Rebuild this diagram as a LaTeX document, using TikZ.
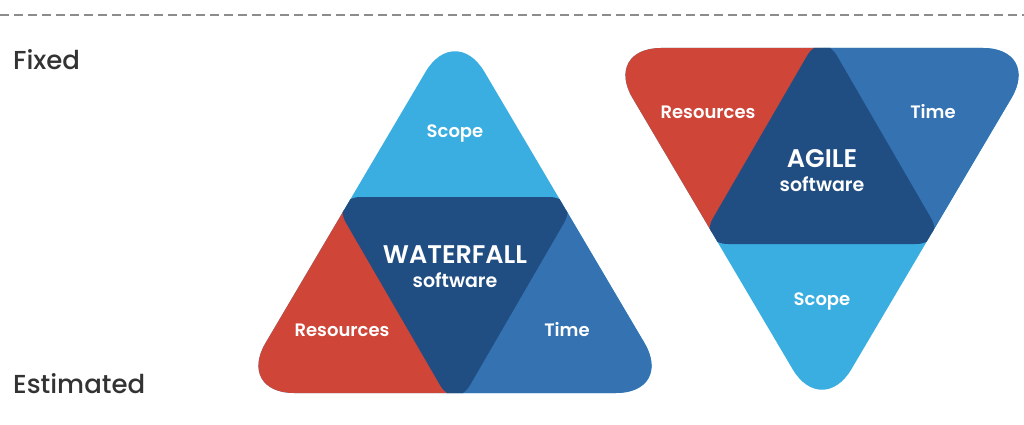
\documentclass[tikz,border=0pt]{standalone}
\usepackage{fontspec}
\setmainfont{Poppins}[BoldFont={Poppins SemiBold}]
\newfontfamily\medfont{Poppins Medium}
\usetikzlibrary{positioning}
\definecolor{resred}{HTML}{CF4538}
\definecolor{scopeblue}{HTML}{3AAEE0}
\definecolor{timeblue}{HTML}{3472B2}
\definecolor{coreblue}{HTML}{214E82}
\definecolor{textgray}{HTML}{333333}

\begin{document}
\begin{tikzpicture}[x=1pt,y=-1pt]
\tikzset{part/.style={text=white,font=\fontsize{18}{20}\selectfont\bfseries},
  method/.style={text=white,font=\fontsize{25.5}{27}\selectfont\bfseries,inner sep=0pt},
  sub/.style={text=white,font=\fontsize{19}{21}\selectfont\bfseries,inner sep=0pt},
  level/.style={text=textgray,font=\fontsize{26}{28}\selectfont\medfont,anchor=west,inner sep=0pt}}
\useasboundingbox (0,0) rectangle (1024,425);
\fill[white] (0,0) rectangle (1024,425);
\draw[gray!90,line width=1.5pt,dash pattern=on 9pt off 5pt] (0,15) -- (1024,15);
\node[level](fixed) at (13,60) {Fixed};
\node[level](estimated) at (13,384) {Estimated};
% waterfall
\begin{scope}
\clip[rounded corners=58] (455,22) -- (674,393) -- (236,393) -- cycle;
\fill[scopeblue] (200,0) rectangle (700,420);
\fill[resred] (200,210) rectangle (455,420);
\fill[timeblue] (455,210) rectangle (700,420);
\fill[coreblue,rounded corners=30] (331,197) -- (579,197) -- (455,411) -- cycle;
\end{scope}
\node[part](wscope) at (455,134) {Scope};
\node[method](wtitle) at (455,255) {WATERFALL};
\node[sub](wsoft)[below=8pt of wtitle] {software};
\node[part](wres) at (342,330) {Resources};
\node[part](wtime) at (567,330) {Time};
% agile
\begin{scope}
\clip[rounded corners=58] (603,48) -- (1041,48) -- (822,419) -- cycle;
\fill[scopeblue] (590,30) rectangle (1050,425);
\fill[resred] (590,30) rectangle (822,233);
\fill[timeblue] (822,30) rectangle (1050,233);
\fill[coreblue,rounded corners=30] (698,244) -- (946,244) -- (822,30) -- cycle;
\end{scope}
\node[part](ares) at (708,112) {Resources};
\node[part](atime) at (933,112) {Time};
\node[method](atitle) at (822,159) {AGILE};
\node[sub](asoft)[below=8pt of atitle] {software};
\node[part](ascope) at (822,302) {Scope};
\end{tikzpicture}
\end{document}
